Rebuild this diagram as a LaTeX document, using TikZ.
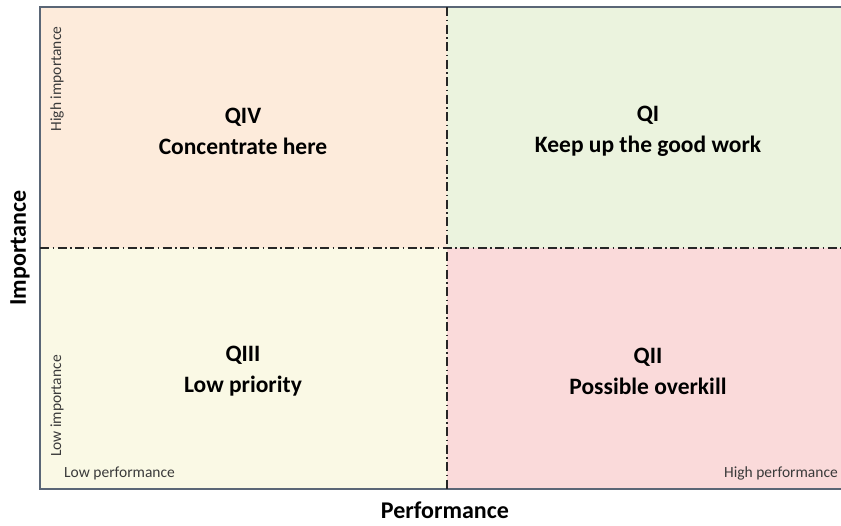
\documentclass[tikz,border=0pt]{standalone}
\usepackage{fontspec}
\setmainfont{Carlito}
\definecolor{qfour}{HTML}{FDEBDB}
\definecolor{qone}{HTML}{EBF3DE}
\definecolor{qthree}{HTML}{FAF9E5}
\definecolor{qtwo}{HTML}{FADADA}
\definecolor{frame}{HTML}{5A6676}
\definecolor{lbl}{HTML}{3A3A3A}
\begin{document}
\begin{tikzpicture}[x=1pt,y=-1pt,
  title/.style={font=\fontsize{23.5}{31}\selectfont\bfseries, align=center, text=black, inner sep=0pt},
  small/.style={font=\fontsize{15.5}{18}\selectfont, text=lbl, inner sep=0pt},
  axis/.style={font=\fontsize{24}{28}\selectfont\bfseries, text=black, inner sep=0pt},
  divider/.style={line width=1.6pt, black!85, dash pattern=on 9pt off 3.5pt on 1.5pt off 3.5pt}]
\useasboundingbox (0,0) rectangle (841,525);
\fill[qfour] (40,7) rectangle (447,248);
\fill[qone] (447,7) rectangle (841,248);
\fill[qthree] (40,248) rectangle (447,489);
\fill[qtwo] (447,248) rectangle (841,489);
\draw[frame, line width=1.8pt] (841,7) -- (40,7) -- (40,489) -- (841,489);
\coordinate (vt) at (447,7);
\coordinate (vb) at (447,489);
\coordinate (hl) at (40,248);
\coordinate (hr) at (841,248);
\draw[divider] (vt) -- (vb);
\draw[divider] (hl) -- (hr);
\node[title] (q4) at (243,131) {QIV\\Concentrate here};
\node[title] (q1) at (648,131) {QI\\Keep up the good work};
\node[title] (q3) at (243,371) {QIII\\Low priority};
\node[title] (q2) at (648,371) {QII\\Possible overkill};
\node[axis, rotate=90] (imp) at (20,248) {Importance};
\node[axis] (perf) at (445,510) {Performance};
\node[small, rotate=90] (hi) at (57,79) {High importance};
\node[small, rotate=90] (li) at (57,406) {Low importance};
\node[small, anchor=west] (lp) at (64,473) {Low performance};
\node[small, anchor=east] (hp) at (838,473) {High performance};
\end{tikzpicture}
\end{document}
